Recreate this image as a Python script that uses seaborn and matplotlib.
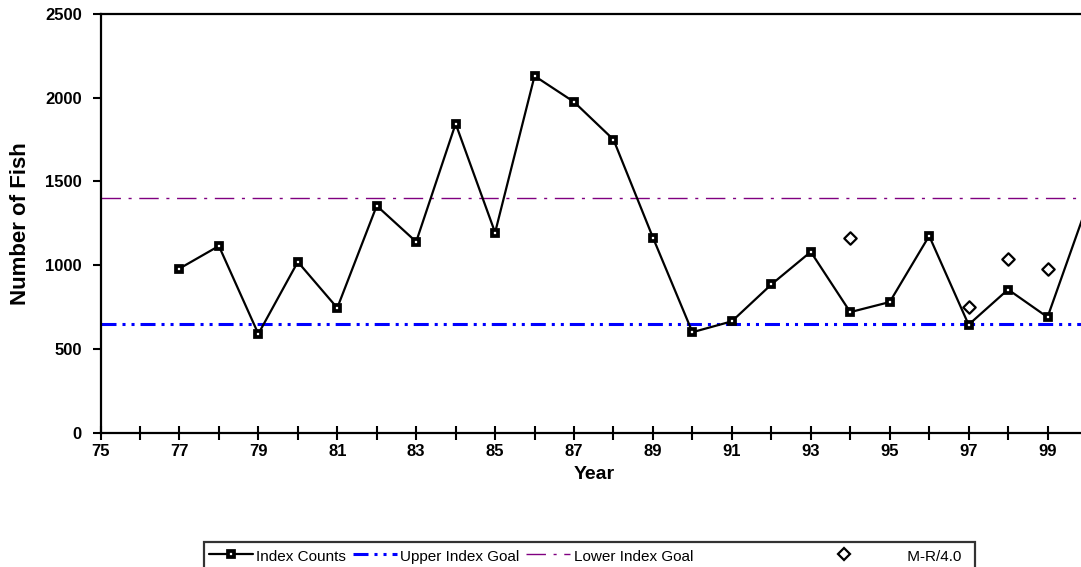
import matplotlib
matplotlib.use("Agg")
import matplotlib.pyplot as plt
import numpy as np
import pandas as pd
import seaborn as sns
from matplotlib.lines import Line2D

# Annual index counts (year as two digits)
years = list(range(77, 101))
index_counts = [980, 1115, 590, 1020, 745, 1355, 1140, 1845, 1195, 2130,
                1975, 1750, 1165, 600, 665, 885, 1080, 720, 780, 1175,
                645, 855, 690, 1355]

# Mark-recapture estimates divided by 4.0
mr_years = [94, 97, 98, 99]
mr_values = [1160, 750, 1035, 980]

# Escapement goal range
upper_goal = 650
lower_goal = 1400

x_ticks = list(range(75, 101))
x_tick_labels = [str(y) if y % 2 == 1 and y < 100 else "" for y in x_ticks]
y_ticks = [0, 500, 1000, 1500, 2000, 2500]

sns.set_style("ticks")
plt.rcParams["font.family"] = ["Liberation Sans", "DejaVu Sans"]
plt.rcParams["lines.scale_dashes"] = False
plt.rcParams["text.color"] = "black"
plt.rcParams["axes.labelcolor"] = "black"
plt.rcParams["xtick.color"] = "black"
plt.rcParams["ytick.color"] = "black"

W, H = 1081, 567
fig = plt.figure(figsize=(W / 100, H / 100), dpi=100)
x0, x1 = 100.5, 1087.0
y0, y1 = 432.7, 14.0
ax = fig.add_axes([x0 / W, 1 - y0 / H, (x1 - x0) / W, (y0 - y1) / H])

blue_style = (0, (10.8, 4.3, 2.2, 4.3, 2.2, 4.3))
purple_style = (0, (14, 5.5, 2.2, 5.5))

ax.axhline(upper_goal, color="#0000ff", lw=2.2, linestyle=blue_style, zorder=1)
ax.axhline(lower_goal, color="#800080", lw=1.0, linestyle=purple_style, zorder=1)

df = pd.DataFrame({"Year": years, "Count": index_counts})
sq_kw = dict(marker="s", markersize=4.9, markerfacecolor="white",
             markeredgecolor="black", markeredgewidth=2.7)
sns.lineplot(data=df, x="Year", y="Count", ax=ax, color="black", lw=1.6,
             legend=False, zorder=3, **sq_kw)

mr = pd.DataFrame({"Year": mr_years, "Estimate": mr_values})
sns.scatterplot(data=mr, x="Year", y="Estimate", ax=ax, marker="D", s=40,
                facecolor="white", edgecolor="black", linewidth=1.6,
                legend=False, zorder=4)

ax.set_xlim(75, 100)
ax.set_ylim(0, 2500)
ax.set_xticks(x_ticks)
ax.set_xticklabels(x_tick_labels)
ax.set_yticks(y_ticks)
ax.set_yticklabels([str(v) for v in y_ticks])

for side in ["left", "bottom", "top", "right"]:
    ax.spines[side].set_linewidth(1.6)
    ax.spines[side].set_color("black")

ax.tick_params(axis="x", direction="inout", length=10, width=1.5,
               labelsize=12, pad=3)
ax.tick_params(axis="y", direction="out", length=5.5, width=1.5,
               labelsize=12, pad=8)
for lab in ax.get_xticklabels() + ax.get_yticklabels():
    lab.set_fontweight("bold")

ax.set_xlabel("Year", fontsize=14, fontweight="bold", labelpad=5)
ax.set_ylabel("Number of Fish", fontsize=16, fontweight="bold", labelpad=10)

handles = [
    Line2D([], [], color="black", lw=1.6, **sq_kw),
    Line2D([], [], color="#0000ff", lw=2.2, linestyle=blue_style),
    Line2D([], [], color="#800080", lw=1.0, linestyle=purple_style),
    Line2D([], [], color="none", lw=0),
    Line2D([], [], color="none", lw=0, marker="D", markersize=6,
           markerfacecolor="white", markeredgecolor="black", markeredgewidth=1.6),
]
labels = ["Index Counts", "Upper Index Goal", "Lower Index Goal",
          " " * 16, " " * 9 + "M-R/4.0" + " " * 2]
leg = fig.legend(handles, labels, ncol=5, loc="upper left",
                 bbox_to_anchor=(204 / W, 1 - 541.7 / H), borderaxespad=0,
                 fontsize=11, handlelength=2.9, handletextpad=0.2,
                 columnspacing=0.45, borderpad=0.3, handleheight=1.6,
                 frameon=True, fancybox=False, numpoints=1)
leg.get_frame().set_edgecolor("black")
leg.get_frame().set_linewidth(1.6)
leg.get_frame().set_facecolor("white")

fig.savefig("out.png", dpi=100)
